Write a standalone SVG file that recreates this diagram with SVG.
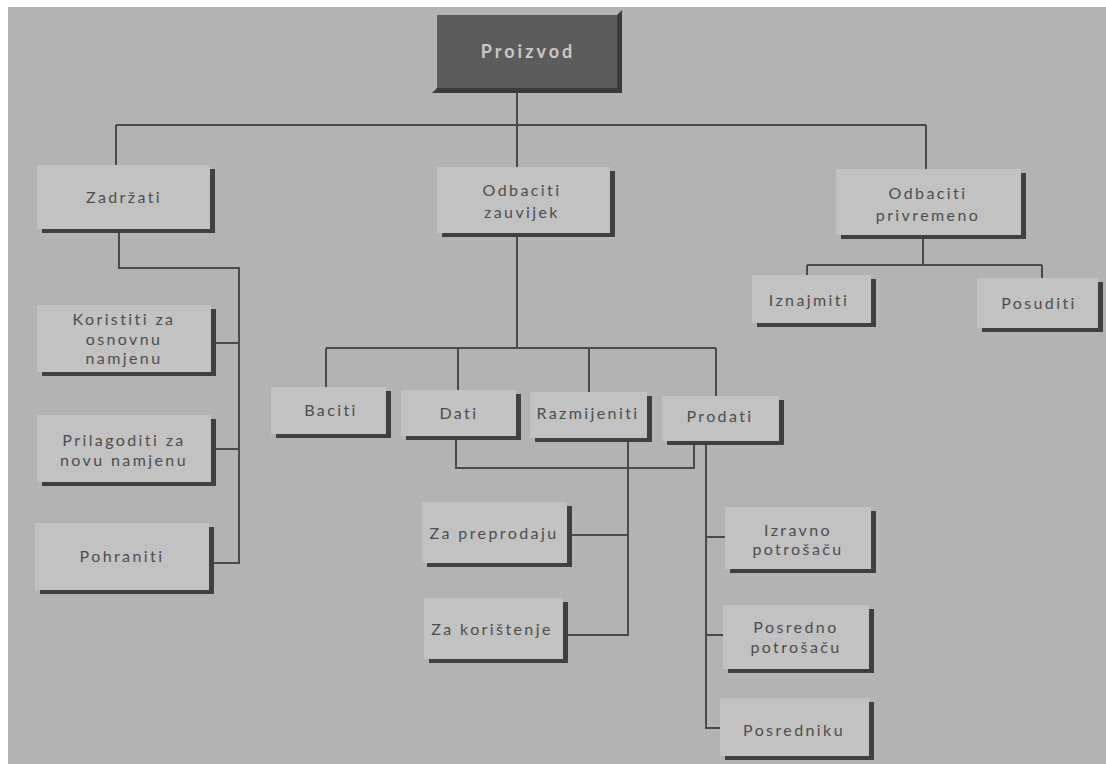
<svg xmlns="http://www.w3.org/2000/svg" width="1106" height="764" viewBox="0 0 1106 764">
<style>
.sh{fill:#404040}
.bx{fill:#c2c2c2}
.t{font-family:Lato,"Open Sans","Liberation Sans",sans-serif;font-size:16px;fill:#4d4d4d;text-anchor:middle;letter-spacing:2.4px}
.c{fill:none;stroke:#4a4a4a;stroke-width:2}
</style>
<rect width="1106" height="764" fill="#ffffff"/>
<rect x="8" y="7" width="1098" height="757" fill="#b3b3b3"/>
<g id="connectors" class="c">
<path d="M517 90V167M116 125H926M116 125V165M926 125V169"/>
<path d="M119 233V268H239V563H213M215 343H239M215 449H239"/>
<path d="M517 237V348M326 348H716M326 348V387M458 348V390M589 348V392M716 348V396"/>
<path d="M456 440V468H694V445"/>
<path d="M628 442V635H567M571 535H628"/>
<path d="M706 445V728H720M706 537H725M706 635H723"/>
<path d="M923 239V265M807 265H1042M807 265V275M1042 265V278"/>
</g>
<g id="proizvod">
<polygon points="432,93 437,88 617,88 617,15 622,10 622,93" fill="#3a3a3a"/>
<rect x="437" y="15" width="180" height="73" fill="#5c5c5c"/>
<text x="528" y="58" class="t" style="font-weight:bold;fill:#c8c8c8;font-size:18px;letter-spacing:3px">Proizvod</text>
</g>
<g id="zadrzati"><rect class="sh" x="42" y="169" width="173" height="64"/><rect class="bx" x="37" y="165" width="173" height="64"/><text class="t" x="124" y="203">Zadržati</text></g>
<g id="odbaciti-zauvijek"><rect class="sh" x="442" y="171" width="173" height="66"/><rect class="bx" x="437" y="167" width="173" height="66"/><text class="t" x="522" y="196">Odbaciti</text><text class="t" x="522" y="218">zauvijek</text></g>
<g id="odbaciti-privremeno"><rect class="sh" x="841" y="173" width="185" height="66"/><rect class="bx" x="836" y="169" width="185" height="66"/><text class="t" x="928" y="199">Odbaciti</text><text class="t" x="928" y="221">privremeno</text></g>
<g id="koristiti"><rect class="sh" x="42" y="309" width="174" height="67"/><rect class="bx" x="37" y="305" width="174" height="67"/><text class="t" x="124" y="325">Koristiti za</text><text class="t" x="124" y="344.5">osnovnu</text><text class="t" x="124" y="364">namjenu</text></g>
<g id="prilagoditi"><rect class="sh" x="42" y="419" width="174" height="67"/><rect class="bx" x="37" y="415" width="174" height="67"/><text class="t" x="124" y="446">Prilagoditi za</text><text class="t" x="124" y="465.5">novu namjenu</text></g>
<g id="pohraniti"><rect class="sh" x="40" y="527" width="174" height="67"/><rect class="bx" x="35" y="523" width="174" height="67"/><text class="t" x="122" y="562">Pohraniti</text></g>
<g id="baciti"><rect class="sh" x="276" y="391" width="115" height="47"/><rect class="bx" x="271" y="387" width="115" height="47"/><text class="t" x="331" y="416">Baciti</text></g>
<g id="dati"><rect class="sh" x="406" y="394" width="115" height="46"/><rect class="bx" x="401" y="390" width="115" height="46"/><text class="t" x="459" y="419">Dati</text></g>
<g id="razmijeniti"><rect class="sh" x="535" y="396" width="117" height="46"/><rect class="bx" x="530" y="392" width="117" height="46"/><text class="t" x="588" y="419">Razmijeniti</text></g>
<g id="prodati"><rect class="sh" x="667" y="400" width="117" height="45"/><rect class="bx" x="662" y="396" width="117" height="45"/><text class="t" x="720" y="422">Prodati</text></g>
<g id="iznajmiti"><rect class="sh" x="757" y="279" width="119" height="48"/><rect class="bx" x="752" y="275" width="119" height="48"/><text class="t" x="809" y="306">Iznajmiti</text></g>
<g id="posuditi"><rect class="sh" x="982" y="282" width="121" height="50"/><rect class="bx" x="977" y="278" width="121" height="50"/><text class="t" x="1039" y="309">Posuditi</text></g>
<g id="za-preprodaju"><rect class="sh" x="427" y="506" width="145" height="61"/><rect class="bx" x="422" y="502" width="145" height="61"/><text class="t" x="494" y="539">Za preprodaju</text></g>
<g id="za-koristenje"><rect class="sh" x="429" y="602" width="139" height="61"/><rect class="bx" x="424" y="598" width="139" height="61"/><text class="t" x="492" y="635">Za korištenje</text></g>
<g id="izravno"><rect class="sh" x="730" y="511" width="146" height="62"/><rect class="bx" x="725" y="507" width="146" height="62"/><text class="t" x="798" y="536">Izravno</text><text class="t" x="798" y="555">potrošaču</text></g>
<g id="posredno"><rect class="sh" x="728" y="609" width="146" height="64"/><rect class="bx" x="723" y="605" width="146" height="64"/><text class="t" x="796" y="633">Posredno</text><text class="t" x="796" y="652.5">potrošaču</text></g>
<g id="posredniku"><rect class="sh" x="725" y="702" width="149" height="58"/><rect class="bx" x="720" y="698" width="149" height="58"/><text class="t" x="794" y="736">Posredniku</text></g>
</svg>
